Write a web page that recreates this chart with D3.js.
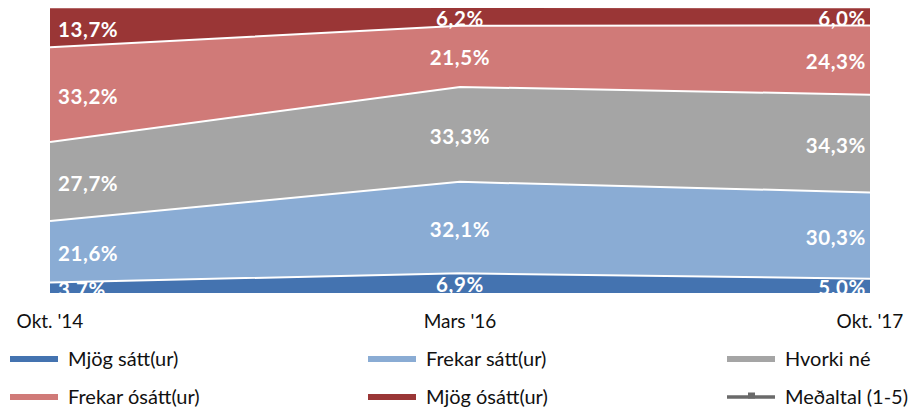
<!DOCTYPE html>
<html lang="is">
<head>
<meta charset="utf-8">
<script src="https://d3js.org/d3.v7.min.js"></script>
<style>
body { margin: 0; background: #fff; }
text { font-family: Lato, "Open Sans", sans-serif; }
.lbl { font-size: 20.5px; font-weight: bold; fill: #fff; letter-spacing: 0.6px; }
.axis text { font-size: 19px; fill: #111; }
.leg text { font-size: 20px; fill: #111; }
</style>
</head>
<body>
<svg width="924" height="412"></svg>
<script>
var periods = ["Okt. '14", "Mars '16", "Okt. '17"];
var seriesNames = ["Mjög sátt(ur)", "Frekar sátt(ur)", "Hvorki né", "Frekar ósátt(ur)", "Mjög ósátt(ur)"];
var mjogSatt = [3.7, 6.9, 5.0];
var frekarSatt = [21.6, 32.1, 30.3];
var hvorki = [27.7, 33.3, 34.3];
var frekarOsatt = [33.2, 21.5, 24.3];
var mjogOsatt = [13.7, 6.2, 6.0];
var colors = ["#4473b0", "#8aacd4", "#a5a5a5", "#d07a78", "#9a3636"];

var svg = d3.select("svg");
var plotLeft = 50, plotRight = 870, plotTop = 8, plotBottom = 293;

var values = [mjogSatt, frekarSatt, hvorki, frekarOsatt, mjogOsatt];
var data = periods.map(function(p, i) {
  var row = { period: p };
  seriesNames.forEach(function(s, k) { row[s] = values[k][i]; });
  return row;
});

var x = d3.scalePoint().domain(periods).range([plotLeft, plotRight]);
var y = d3.scaleLinear().domain([0, 100]).range([plotBottom, plotTop]);

var layers = d3.stack().keys(seriesNames)(data);

svg.append("clipPath").attr("id", "plot")
  .append("rect").attr("x", plotLeft).attr("y", plotTop - 1)
  .attr("width", plotRight - plotLeft).attr("height", plotBottom - plotTop + 1);

var area = d3.area()
    .x(function(d) { return x(d.data.period); })
    .y0(function(d) { return y(d[0]); })
    .y1(function(d) { return y(d[1]); });

var line = d3.line()
    .x(function(d) { return x(d.data.period); })
    .y(function(d) { return y(d[1]); });

var g = svg.append("g").attr("clip-path", "url(#plot)");

g.selectAll(".area")
  .data(layers)
  .enter().append("path")
    .attr("d", area)
    .attr("fill", function(d, i) { return colors[i]; });

g.selectAll(".sep")
  .data(layers.slice(0, 4))
  .enter().append("path")
    .attr("d", line)
    .attr("fill", "none")
    .attr("stroke", "#fff")
    .attr("stroke-width", 2);

// value labels
layers.forEach(function(layer) {
  layer.forEach(function(d, i) {
    var anchor = i === 0 ? "start" : (i === periods.length - 1 ? "end" : "middle");
    var dx = i === 0 ? 8 : (i === periods.length - 1 ? -4 : 0);
    g.append("text")
      .attr("class", "lbl")
      .attr("x", x(d.data.period) + dx)
      .attr("y", y((d[0] + d[1]) / 2) + 2)
      .attr("dy", "0.35em")
      .attr("text-anchor", anchor)
      .text(d3.format(".1f")(d[1] - d[0]).replace(".", ",") + "%");
  });
});

// x axis labels
svg.append("g").attr("class", "axis")
  .selectAll("text")
  .data(periods)
  .enter().append("text")
    .attr("x", function(d) { return x(d); })
    .attr("y", 328)
    .attr("text-anchor", "middle")
    .text(function(d) { return d; });

// legend
var legendItems = seriesNames.concat(["Meðaltal (1-5)"]);
var colX = [10, 368, 727];
var rowY = [359, 397];
var leg = svg.append("g").attr("class", "leg");
legendItems.forEach(function(name, i) {
  var cx = colX[i % 3], cy = rowY[Math.floor(i / 3)];
  if (i < 5) {
    leg.append("rect").attr("x", cx).attr("y", cy - 3).attr("width", 48).attr("height", 6)
      .attr("fill", colors[i]);
  } else {
    leg.append("line").attr("x1", cx).attr("x2", cx + 48).attr("y1", cy).attr("y2", cy)
      .attr("stroke", "#6a6a6a").attr("stroke-width", 3.5);
    leg.append("rect").attr("x", cx + 21).attr("y", cy - 4.5).attr("width", 7).attr("height", 6)
      .attr("fill", "#6a6a6a");
  }
  leg.append("text").attr("x", cx + 58).attr("y", cy + 7).text(name);
});
</script>
</body>
</html>
